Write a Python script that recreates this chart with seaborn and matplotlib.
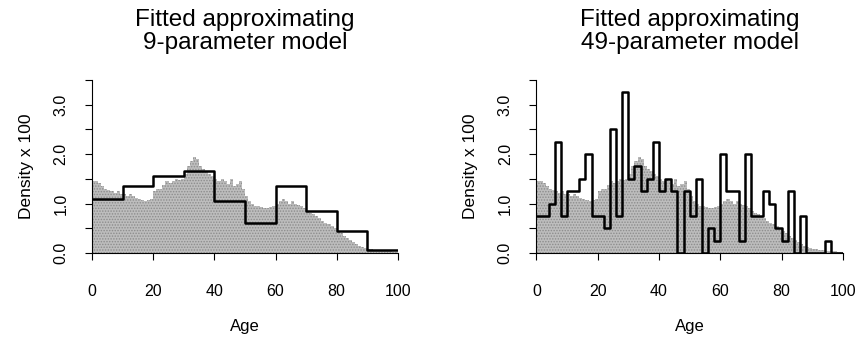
import numpy as np
import pandas as pd
import matplotlib
matplotlib.use("Agg")
import matplotlib.pyplot as plt
import seaborn as sns

# population age density (x 100), one-year bins 0..99
pop_density = [1.45, 1.45, 1.42, 1.35, 1.30, 1.28, 1.25, 1.22, 1.25, 1.20,
               1.20, 1.15, 1.20, 1.15, 1.12, 1.10, 1.08, 1.05, 1.07, 1.10,
               1.25, 1.30, 1.30, 1.38, 1.45, 1.42, 1.45, 1.50, 1.48, 1.50,
               1.60, 1.75, 1.85, 1.95, 1.90, 1.75, 1.70, 1.65, 1.60, 1.55,
               1.50, 1.45, 1.50, 1.45, 1.40, 1.50, 1.35, 1.40, 1.45, 1.30,
               1.15, 1.05, 1.00, 0.95, 0.95, 0.92, 0.90, 0.90, 0.92, 0.95,
               1.00, 1.05, 1.10, 1.05, 1.00, 1.05, 1.00, 0.98, 0.95, 0.90,
               0.85, 0.80, 0.78, 0.75, 0.70, 0.65, 0.60, 0.58, 0.55, 0.50,
               0.45, 0.40, 0.35, 0.30, 0.27, 0.22, 0.18, 0.15, 0.12, 0.10,
               0.08, 0.07, 0.06, 0.05, 0.04, 0.04, 0.03, 0.03, 0.02, 0.02]

# fitted 9-parameter model, 10-year bins
fit9 = [1.10, 1.35, 1.55, 1.65, 1.05, 0.60, 1.35, 0.85, 0.45, 0.05]

# fitted 49-parameter model, 2-year bins
fit49 = [0.75, 0.75, 1.00, 2.25, 0.75, 1.25, 1.25, 1.50, 2.00, 0.75,
         0.75, 0.50, 2.50, 0.75, 3.25, 1.50, 1.75, 1.25, 1.50, 2.25,
         1.25, 1.50, 1.25, 0.00, 1.25, 0.75, 1.50, 0.00, 0.50, 0.25,
         2.00, 1.25, 1.25, 0.25, 2.00, 0.75, 0.75, 1.25, 1.00, 0.50,
         0.25, 1.25, 0.00, 0.75, 0.00, 0.00, 0.00, 0.25, 0.00, 0.00]

titles = ["Fitted approximating\n9-parameter model",
          "Fitted approximating\n49-parameter model"]

sns.set_style("ticks", {'text.color': 'black', 'axes.labelcolor': 'black',
                        'xtick.color': 'black', 'ytick.color': 'black',
                        'axes.edgecolor': 'black'})
plt.rcParams['font.family'] = ['Liberation Sans', 'DejaVu Sans']
plt.rcParams['hatch.linewidth'] = 0.7

fig = plt.figure(figsize=(8.61, 3.40), dpi=100)
ax1 = fig.add_axes([0.107, 0.256, 0.355, 0.509])
ax2 = fig.add_axes([0.623, 0.256, 0.356, 0.509])

pop = pd.DataFrame({'age': np.arange(100) + 0.5, 'dens': pop_density})

for ax, fit, width, title in [(ax1, fit9, 10, titles[0]), (ax2, fit49, 2, titles[1])]:
    # population histogram in stippled grey
    sns.histplot(data=pop, x='age', weights='dens', binwidth=1, binrange=(0, 100),
                 element='step', fill=True, color='#bdbdbd', alpha=1,
                 linewidth=0, ax=ax)
    grey = ax.collections[-1]
    grey.set_hatch('......')
    grey.set_edgecolor('#8c8c8c')
    grey.set_linewidth(0)

    fd = pd.DataFrame({'age': np.arange(0, 100, width) + width / 2, 'h': fit})
    sns.histplot(data=fd, x='age', weights='h', binwidth=width, binrange=(0, 100),
                 element='step', fill=False, color='black', linewidth=1.8, ax=ax)

    ax.set_xlim(0, 100)
    ax.set_ylim(0, 3.5)
    ax.set_xticks([0, 20, 40, 60, 80, 100])
    ax.set_yticks(np.arange(0, 3.6, 0.5))
    ax.set_yticklabels(['0.0', '', '1.0', '', '2.0', '', '3.0', ''])
    ax.tick_params(axis='x', labelsize=11.5, length=5, pad=17)
    ax.tick_params(axis='y', labelsize=11.5, length=5, pad=12, labelrotation=90)
    for lab in ax.get_yticklabels():
        lab.set_verticalalignment('center')
    sns.despine(ax=ax)
    ax.spines['left'].set_bounds(0, 3.5)
    ax.spines['bottom'].set_bounds(0, 100)
    ax.set_xlabel('Age', fontsize=12, labelpad=15)
    ax.set_ylabel('Density x 100', fontsize=12.5, labelpad=14)
    ax.set_title(title, fontsize=17.5, pad=22, linespacing=1.05)

fig.savefig('out.png', dpi=100)
